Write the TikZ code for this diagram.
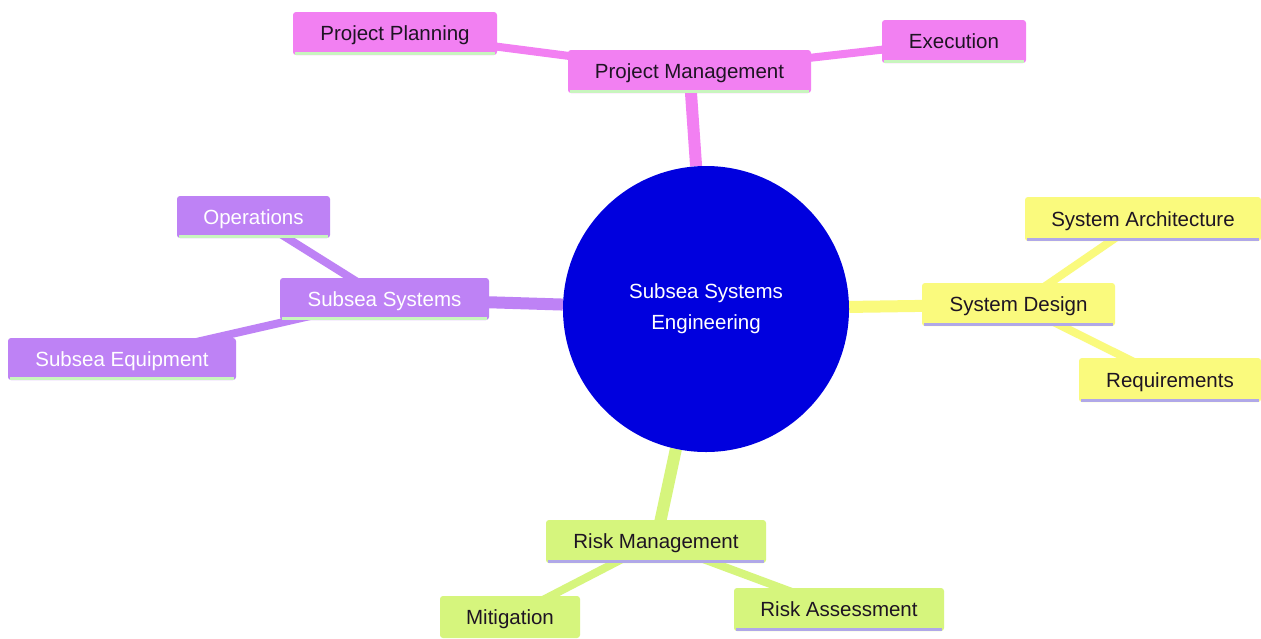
\documentclass[tikz,border=0pt]{standalone}
\usepackage{fontspec}
\setmainfont{Liberation Sans}
\usetikzlibrary{backgrounds}
\definecolor{pinkc}{RGB}{242,128,242}
\definecolor{purpc}{RGB}{190,130,245}
\definecolor{yelc}{RGB}{250,250,125}
\definecolor{grnc}{RGB}{214,245,125}
\definecolor{bluec}{RGB}{0,0,222}
\definecolor{lgreen}{RGB}{200,245,190}
\definecolor{lav}{RGB}{176,168,232}
\definecolor{txtd}{RGB}{30,20,35}
\tikzset{
  box/.style={rectangle, rounded corners=3pt, inner sep=0pt, text height=16pt, text depth=2pt,
    font=\fontsize{20.5}{24}\selectfont},
  pinkbox/.style={box, fill=pinkc, text=txtd},
  purpbox/.style={box, fill=purpc, text=white},
  yelbox/.style={box, fill=yelc, text=txtd},
  grnbox/.style={box, fill=grnc, text=txtd},
  mainedge/.style={line width=12pt},
  subedge/.style={line width=8pt},
  bord/.style={line width=3pt},
}
\begin{document}
\begin{tikzpicture}[x=1pt,y=-1pt]
\useasboundingbox (0,0) rectangle (1261,638);
\node[circle, fill=bluec, minimum size=286pt, inner sep=0pt, text=white, align=center,
  font=\fontsize{20.5}{31}\selectfont] (c) at (706,309) {Subsea Systems\\Engineering};

\node[pinkbox, minimum width=243pt, minimum height=43pt] (pm) at (689.5,71.5) {Project Management};
\node[pinkbox, minimum width=204pt, minimum height=43pt] (pp) at (395,33.5) {Project Planning};
\node[pinkbox, minimum width=144pt, minimum height=43pt] (ex) at (954,41.5) {Execution};

\node[purpbox, minimum width=209pt, minimum height=42pt] (ss) at (384.5,299) {Subsea Systems};
\node[purpbox, minimum width=153pt, minimum height=42pt] (op) at (253.5,217) {Operations};
\node[purpbox, minimum width=228pt, minimum height=42pt] (se) at (122,359) {Subsea Equipment};

\node[yelbox, minimum width=193pt, minimum height=43pt] (sd) at (1018.5,304.5) {System Design};
\node[yelbox, minimum width=236pt, minimum height=44pt] (sa) at (1143,219) {System Architecture};
\node[yelbox, minimum width=182pt, minimum height=44pt] (rq) at (1170,380) {Requirements};

\node[grnbox, minimum width=220pt, minimum height=43pt] (rm) at (656,541.5) {Risk Management};
\node[grnbox, minimum width=140pt, minimum height=42pt] (mi) at (510,617) {Mitigation};
\node[grnbox, minimum width=210pt, minimum height=43pt] (ra) at (839,609.5) {Risk Assessment};

\begin{scope}[on background layer]
\fill[white] (0,0) rectangle (1261,638);
\draw[mainedge, pinkc] (c) -- (pm.center);
\draw[subedge, pinkc] (pm.center) -- (pp.center);
\draw[subedge, pinkc] (pm.center) -- (ex.center);
\draw[mainedge, purpc] (c) -- (ss.center);
\draw[subedge, purpc] (ss.center) -- (op.center);
\draw[subedge, purpc] (ss.center) -- (se.center);
\draw[mainedge, yelc] (c) -- (sd.center);
\draw[subedge, yelc] (sd.center) -- (sa.center);
\draw[subedge, yelc] (sd.center) -- (rq.center);
\draw[mainedge, grnc] (c) -- (rm.center);
\draw[subedge, grnc] (rm.center) -- (mi.center);
\draw[subedge, grnc] (rm.center) -- (ra.center);
\end{scope}

\foreach \n in {pm,pp,ex,ss,op,se}{
  \draw[bord, lgreen] ([xshift=2pt,yshift=1.5pt]\n.south west) -- ([xshift=-2pt,yshift=1.5pt]\n.south east);
}
\foreach \n in {sd,sa,rq,rm,ra}{
  \draw[bord, lav] ([xshift=2pt,yshift=1.5pt]\n.south west) -- ([xshift=-2pt,yshift=1.5pt]\n.south east);
}
\end{tikzpicture}
\end{document}
